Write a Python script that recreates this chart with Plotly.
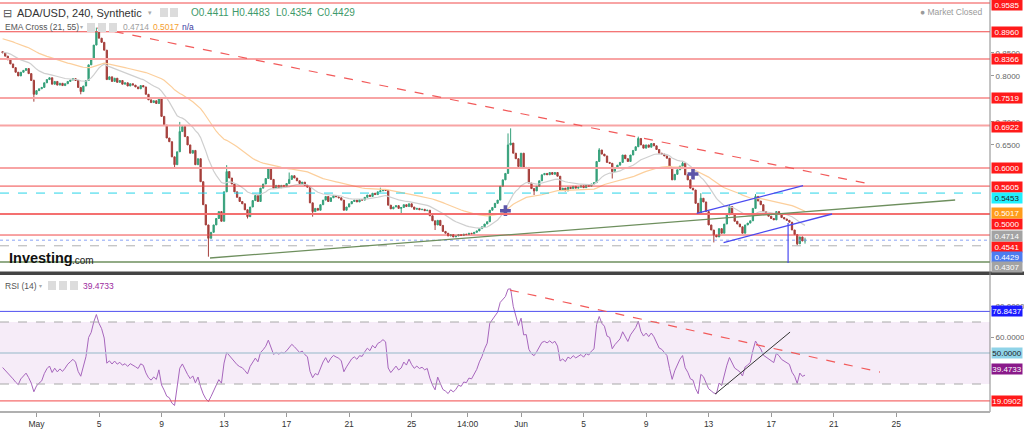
import pandas as pd
import plotly.graph_objects as go

# ---------------- data ----------------
START_TIME = "2022-04-28 20:00"       # first 4h candle
FIRST_OPEN = 0.853
CLOSES = [
    0.850, 0.843, 0.835, 0.826, 0.818, 0.808, 0.800, 0.808, 0.812, 0.816,
    0.805, 0.790, 0.760, 0.768, 0.772, 0.775, 0.785, 0.792, 0.796, 0.782,
    0.788, 0.780, 0.784, 0.779, 0.783, 0.788, 0.791, 0.794, 0.790, 0.775,
    0.766, 0.778, 0.790, 0.824, 0.836, 0.867, 0.896, 0.882, 0.873, 0.856,
    0.792, 0.798, 0.788, 0.795, 0.786, 0.790, 0.782, 0.785, 0.778, 0.783,
    0.780, 0.776, 0.772, 0.779, 0.776, 0.760, 0.748, 0.742, 0.746, 0.740,
    0.752, 0.712, 0.693, 0.665, 0.657, 0.624, 0.607, 0.635, 0.679, 0.690,
    0.668, 0.650, 0.632, 0.638, 0.607, 0.620, 0.570, 0.520, 0.476, 0.447,
    0.460, 0.476, 0.490, 0.505, 0.484, 0.548, 0.592, 0.578, 0.565, 0.548,
    0.536, 0.527, 0.522, 0.509, 0.494, 0.515, 0.529, 0.540, 0.527, 0.556,
    0.565, 0.577, 0.599, 0.575, 0.556, 0.562, 0.557, 0.562, 0.560, 0.566,
    0.575, 0.583, 0.578, 0.572, 0.566, 0.569, 0.562, 0.558, 0.524, 0.505,
    0.512, 0.508, 0.520, 0.530, 0.538, 0.527, 0.535, 0.540, 0.537, 0.535,
    0.530, 0.508, 0.515, 0.522, 0.527, 0.530, 0.526, 0.531, 0.530, 0.536,
    0.541, 0.538, 0.545, 0.542, 0.548, 0.550, 0.553, 0.551, 0.519, 0.511,
    0.515, 0.518, 0.512, 0.514, 0.520, 0.516, 0.522, 0.515, 0.510, 0.512,
    0.509, 0.510, 0.507, 0.508, 0.496, 0.485, 0.476, 0.486, 0.475, 0.462,
    0.458, 0.452, 0.455, 0.450, 0.452, 0.455, 0.453, 0.456, 0.455, 0.458,
    0.457, 0.460, 0.463, 0.468, 0.472, 0.478, 0.483, 0.508, 0.514, 0.523,
    0.530, 0.560, 0.574, 0.588, 0.650, 0.654, 0.632, 0.620, 0.603, 0.632,
    0.600, 0.601, 0.567, 0.555, 0.550, 0.560, 0.572, 0.585, 0.588, 0.585,
    0.590, 0.586, 0.590, 0.582, 0.552, 0.556, 0.550, 0.558, 0.555, 0.560,
    0.556, 0.558, 0.561, 0.557, 0.562, 0.560, 0.565, 0.568, 0.614, 0.639,
    0.630, 0.626, 0.612, 0.610, 0.592, 0.600, 0.606, 0.612, 0.628, 0.620,
    0.614, 0.628, 0.638, 0.646, 0.664, 0.650, 0.643, 0.650, 0.645, 0.653,
    0.648, 0.640, 0.632, 0.630, 0.626, 0.621, 0.599, 0.574, 0.586, 0.596,
    0.604, 0.610, 0.585, 0.574, 0.556, 0.552, 0.523, 0.501, 0.534, 0.526,
    0.505, 0.476, 0.465, 0.454, 0.450, 0.468, 0.458, 0.478, 0.498, 0.516,
    0.500, 0.484, 0.478, 0.472, 0.458, 0.476, 0.480, 0.485, 0.512, 0.538,
    0.528, 0.520, 0.505, 0.500, 0.495, 0.490, 0.487, 0.505, 0.500, 0.492,
    0.489, 0.486, 0.482, 0.465, 0.455, 0.435, 0.450, 0.4411, 0.4429,
]
HIGH_WICKS = {12: 0.792, 36: 0.905, 68: 0.700, 86: 0.606, 110: 0.590, 145: 0.557,
              194: 0.675, 195: 0.686, 229: 0.643, 244: 0.668, 261: 0.614,
              268: 0.545, 279: 0.520, 289: 0.543, 308: 0.4483}
LOW_WICKS = {12: 0.744, 30: 0.760, 66: 0.600, 79: 0.407, 94: 0.490, 119: 0.494,
             153: 0.498, 166: 0.465, 204: 0.541, 234: 0.577, 273: 0.438,
             305: 0.432, 308: 0.4354}

EMA_FAST_SEED, EMA_SLOW_SEED = 0.852, 0.882
RSI_SEED_GAIN, RSI_SEED_LOSS = 0.0055, 0.0078
EMA21_LAST, EMA55_LAST, RSI_LAST = 0.4714, 0.5017, 39.4733
OHLC_LAST = (0.4411, 0.4483, 0.4354, 0.4429)

RED_LEVELS = [0.9585, 0.8960, 0.8366, 0.7519, 0.6922, 0.6000, 0.5605, 0.5000, 0.4541]
CYAN_LEVEL, PRICE_LAST, GRAY_LEVEL, GREEN_LEVEL = 0.5453, 0.4429, 0.4307, 0.3955
RSI_HIGH_LINE, RSI_MID, RSI_LOW_LINE = 76.8437, 50.0, 19.0902

RED_TREND = [("2022-05-04 21:00", 0.9041), ("2022-06-23 00:00", 0.5672)]
GREEN_TREND = [("2022-05-12 02:24", 0.4042), ("2022-06-28 18:30", 0.5302)]
CHANNEL_UP = [("2022-06-12 05:45", 0.5013), ("2022-06-19 01:00", 0.5613)]
CHANNEL_LOW = [("2022-06-13 23:00", 0.4378), ("2022-06-20 21:30", 0.4998)]
VERTICAL_MARK = [("2022-06-18 02:00", 0.4802), ("2022-06-18 02:00", 0.3933)]
CROSS_TIMES = ["2022-05-31 00:00", "2022-06-12 00:00"]
CROSS_PRICES = [0.507, 0.5868]
RSI_RED_TREND = [("2022-05-31 07:00", 90.6), ("2022-06-23 23:00", 37.7)]
RSI_BLACK_TREND = [("2022-06-13 10:00", 23.5), ("2022-06-18 05:00", 63.5)]

TICK_DATES = ["2022-05-01", "2022-05-05", "2022-05-09", "2022-05-13", "2022-05-17",
              "2022-05-21", "2022-05-25", "2022-05-28 14:00", "2022-06-01", "2022-06-05",
              "2022-06-09", "2022-06-13", "2022-06-17", "2022-06-21", "2022-06-25"]
TICK_TEXT = ["May", "5", "9", "13", "17", "21", "25", "14:00", "Jun", "5", "9", "13",
             "17", "21", "25"]
# the other axis ticks are hidden under the level labels in the reference
PRICE_TICKS = [0.65, 0.70, 0.80, 0.85]
RSI_TICKS = [60, 80]

# ---------------- derived series ----------------
times = pd.date_range(START_TIME, periods=len(CLOSES), freq="4h")
opens = [FIRST_OPEN] + CLOSES[:-1]
highs = [HIGH_WICKS.get(i, max(o, c)) for i, (o, c) in enumerate(zip(opens, CLOSES))]
lows = [LOW_WICKS.get(i, min(o, c)) for i, (o, c) in enumerate(zip(opens, CLOSES))]


def ema(values, n, seed):
    a = 2 / (n + 1)
    out, e = [], seed
    for v in values:
        e = a * v + (1 - a) * e
        out.append(e)
    return out


ema21 = ema(CLOSES, 21, EMA_FAST_SEED)
ema55 = ema(CLOSES, 55, EMA_SLOW_SEED)

rsi = []
ag, al, prev = RSI_SEED_GAIN, RSI_SEED_LOSS, FIRST_OPEN
for c in CLOSES:
    ch = c - prev
    ag = (ag * 13 + max(ch, 0)) / 14
    al = (al * 13 + max(-ch, 0)) / 14
    rsi.append(100 - 100 / (1 + ag / al))
    prev = c

# ---------------- styling / layout ----------------
W, H = 1024, 429
PLOT_W, PLOT_H = 990, 412
FONT = "Liberation Sans, Arial, sans-serif"
GREEN, RED = "#35a07a", "#a53f3b"


def PX(x):
    return x / PLOT_W


def PY(y):
    return 1 - y / PLOT_H


fig = go.Figure()
fig.add_trace(go.Scatter(x=times, y=ema55, mode="lines", line=dict(color="#fccf9c", width=1.2),
                         hoverinfo="skip", xaxis="x", yaxis="y"))
fig.add_trace(go.Scatter(x=times, y=ema21, mode="lines", line=dict(color="#cfcfcf", width=1.2),
                         hoverinfo="skip", xaxis="x", yaxis="y"))
fig.add_trace(go.Candlestick(
    x=times, open=opens, high=highs, low=lows, close=CLOSES,
    increasing=dict(line=dict(color=GREEN, width=1), fillcolor=GREEN),
    decreasing=dict(line=dict(color=RED, width=1), fillcolor=RED),
    whiskerwidth=0, xaxis="x", yaxis="y"))
fig.add_trace(go.Scatter(x=CROSS_TIMES, y=CROSS_PRICES, mode="markers",
                         marker=dict(symbol="cross", size=9, color="#5d55a8"),
                         xaxis="x", yaxis="y"))
fig.add_trace(go.Scatter(x=times, y=rsi, mode="lines", line=dict(color="#a766bd", width=1),
                         xaxis="x2", yaxis="y2"))

shapes = []
pink_levels = {0.9585, 0.8366, 0.7519, 0.6922, 0.6000}
for v in RED_LEVELS:
    if v in pink_levels:
        ln = dict(color="#f8a4a4", width=2)
    elif v == 0.5000:
        ln = dict(color="#f47070", width=2)
    else:
        ln = dict(color="#f04848", width=1)
    shapes.append(dict(type="line", xref="paper", yref="y", x0=0, x1=1, y0=v, y1=v, line=ln))
shapes.append(dict(type="line", xref="paper", yref="y", x0=0, x1=1, y0=CYAN_LEVEL, y1=CYAN_LEVEL,
                   line=dict(color="#27d4e8", width=1, dash="dash")))
shapes.append(dict(type="line", xref="paper", yref="y", x0=0, x1=1, y0=PRICE_LAST, y1=PRICE_LAST,
                   line=dict(color="#8aa4f5", width=1, dash="dot")))
shapes.append(dict(type="line", xref="paper", yref="y", x0=0, x1=1, y0=GRAY_LEVEL, y1=GRAY_LEVEL,
                   line=dict(color="#b0b0b0", width=1, dash="dash")))
shapes.append(dict(type="line", xref="paper", yref="y", x0=0, x1=1, y0=GREEN_LEVEL, y1=GREEN_LEVEL,
                   line=dict(color="#6e8f5e", width=1.3)))


def seg(pts, xr, yr, **line):
    (xa, ya), (xb, yb) = pts
    return dict(type="line", xref=xr, yref=yr, x0=xa, y0=ya, x1=xb, y1=yb, line=line)


shapes.append(seg(RED_TREND, "x", "y", color="#f25a5a", width=1.2, dash="dash"))
shapes.append(seg(GREEN_TREND, "x", "y", color="#6e8f5e", width=1.3))
shapes.append(seg(CHANNEL_UP, "x", "y", color="#4a4af0", width=1.3))
shapes.append(seg(CHANNEL_LOW, "x", "y", color="#4a4af0", width=1.3))
shapes.append(seg(VERTICAL_MARK, "x", "y", color="#4a4af0", width=1.2))

# RSI panel
shapes.append(dict(type="rect", xref="paper", yref="y2", x0=0, x1=1, y0=30, y1=70,
                   fillcolor="rgba(156,39,176,0.09)", line=dict(width=0), layer="below"))
for v in (30, 70):
    shapes.append(dict(type="line", xref="paper", yref="y2", x0=0, x1=1, y0=v, y1=v,
                       line=dict(color="#a8a8a8", width=1, dash="dash")))
shapes.append(dict(type="line", xref="paper", yref="y2", x0=0, x1=1, y0=RSI_MID, y1=RSI_MID,
                   line=dict(color="#b4cad8", width=1.5)))
shapes.append(dict(type="line", xref="paper", yref="y2", x0=0, x1=1, y0=RSI_HIGH_LINE, y1=RSI_HIGH_LINE,
                   line=dict(color="#5050f0", width=1)))
shapes.append(dict(type="line", xref="paper", yref="y2", x0=0, x1=1, y0=RSI_LOW_LINE, y1=RSI_LOW_LINE,
                   line=dict(color="#f24848", width=1)))
shapes.append(seg(RSI_RED_TREND, "x2", "y2", color="#f25a5a", width=1.2, dash="dash"))
shapes.append(seg(RSI_BLACK_TREND, "x2", "y2", color="#333333", width=1))

# frame pieces
shapes.append(dict(type="rect", xref="paper", yref="paper", x0=0, x1=PX(W), y0=PY(275), y1=PY(271.5),
                   fillcolor="#444444", line=dict(width=0)))
shapes.append(dict(type="line", xref="paper", yref="paper", x0=1, x1=1, y0=0, y1=1,
                   line=dict(color="#888888", width=1)))
shapes.append(dict(type="line", xref="paper", yref="paper", x0=0, x1=1, y0=0, y1=0,
                   line=dict(color="#b0b0b0", width=2)))
# small header icons
for (x0, y0) in [(160, 8), (170, 8), (87, 23), (98, 23), (109, 23), (48, 281), (59, 281), (70, 281)]:
    shapes.append(dict(type="rect", xref="paper", yref="paper", x0=PX(x0), x1=PX(x0 + 8),
                       y0=PY(y0 + 9), y1=PY(y0), fillcolor="#dcdcdc", line=dict(width=0)))

ann = []


def label(text, py, bg, fg="white"):
    ann.append(dict(text=text, xref="paper", yref="paper", x=PX(991), y=PY(py), xanchor="left",
                    yanchor="middle", showarrow=False, bgcolor=bg, width=30, height=10,
                    font=dict(family=FONT, size=8, color=fg), borderpad=0))


MAIN_LABEL_PX = {0.9585: 5, 0.8960: 32, 0.8366: 59, 0.7519: 98, 0.6922: 127, 0.6000: 168,
                 0.5605: 187, 0.5000: 224, 0.4541: 247}
for v in RED_LEVELS:
    label(f"{v:.4f}", MAIN_LABEL_PX[v], "#ff1a1a")
label(f"{CYAN_LEVEL:.4f}", 198, "#20f0ff", "#222")
label(f"{EMA55_LAST:.4f}", 213, "#ff9c1a")
label(f"{EMA21_LAST:.4f}", 236, "#a3a3a3")
label(f"{PRICE_LAST:.4f}", 257, "#4c7cf0")
label(f"{GRAY_LEVEL:.4f}", 267, "#a3a3a3")
label(f"{RSI_HIGH_LINE:.4f}", 311, "#1a1aff")
label(f"{RSI_MID:.4f}", 353, "#8fd3e8", "#222")
label(f"{RSI_LAST:.4f}", 369, "#8a1a8a")
label(f"{RSI_LOW_LINE:.4f}", 401, "#ff1a1a")


def text(t, x, y, size, color, bold=False, anchor="left"):
    ann.append(dict(text=f"<b>{t}</b>" if bold else t, xref="paper", yref="paper", x=PX(x),
                    y=PY(y), xanchor=anchor, yanchor="middle", showarrow=False,
                    font=dict(family=FONT, size=size, color=color)))


text("⊟", 1, 13, 11, "#555")
text("ADA/USD, 240, Synthetic", 15, 13, 11, "#333")
text("▾", 146, 13, 7, "#aaa")
o, h, l, c = OHLC_LAST
text(f"O{o:.4f}", 189, 13, 10, "#3d9a6a")
text(f"H{h:.4f}", 230, 13, 10, "#3d9a6a")
text(f"L{l:.4f}", 274, 13, 10, "#3d9a6a")
text(f"C{c:.4f}", 315, 13, 10, "#3d9a6a")
text("EMA Cross (21, 55)", 3, 27, 8.5, "#555")
text("▾", 78, 27, 6, "#aaa")
text(f"{EMA21_LAST:.4f}", 121, 27, 8.5, "#a0a0a0")
text(f"{EMA55_LAST:.4f}", 151, 27, 8.5, "#f5a030")
text("n/a", 180, 27, 8.5, "#3a3aa0")
text("RSI (14)", 3, 286, 8.5, "#555")
text("▾", 37, 286, 6, "#aaa")
text(f"{RSI_LAST:.4f}", 81, 286, 8.5, "#9c2aa0")
text("● Market Closed", 985, 12, 8.5, "#9a9a9a", anchor="right")
text("Investing", 7, 258, 14.5, "#111", bold=True)
text(".com", 70, 260, 10, "#222")

fig.update_layout(
    width=W, height=H, margin=dict(l=0, r=W - PLOT_W, t=0, b=H - PLOT_H),
    paper_bgcolor="white", plot_bgcolor="white", showlegend=False,
    font=dict(family=FONT, size=9, color="#444"),
    xaxis=dict(domain=[0, 1], anchor="y", range=["2022-04-28 16:00", "2022-07-01 00:00"],
               showticklabels=False, showgrid=False, zeroline=False, rangeslider=dict(visible=False),
               showline=False, ticks=""),
    xaxis2=dict(domain=[0, 1], anchor="y2", matches="x", range=["2022-04-28 16:00", "2022-07-01 00:00"],
                tickvals=TICK_DATES, ticktext=TICK_TEXT, ticks="outside", ticklen=4,
                tickcolor="#999", tickfont=dict(size=8.5, color="#333", family=FONT),
                showgrid=False, zeroline=False, showline=False),
    yaxis=dict(domain=[1 - 270 / PLOT_H, 1], range=[0.37807, 0.96502], side="right",
               tickvals=PRICE_TICKS, ticktext=[f"{v:.4f}" for v in PRICE_TICKS],
               ticks="outside", ticklen=3, tickcolor="#999", showgrid=False, zeroline=False,
               tickfont=dict(size=8, color="#666", family=FONT)),
    yaxis2=dict(domain=[0, 1 - 276 / PLOT_H], range=[11.94, 99.68], side="right",
                tickvals=RSI_TICKS, ticktext=[f"{v:.4f}" for v in RSI_TICKS],
                ticks="outside", ticklen=3, tickcolor="#999", showgrid=False, zeroline=False,
                tickfont=dict(size=8, color="#666", family=FONT)),
    shapes=shapes, annotations=ann,
)

fig.write_html("out.html", config={"displayModeBar": False})
